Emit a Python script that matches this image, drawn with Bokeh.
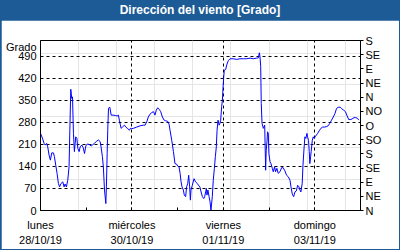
from bokeh.plotting import figure
from bokeh.models import Range1d, FixedTicker, LinearAxis, Div, Grid
from bokeh.layouts import column
from bokeh.embed import file_html
from bokeh.resources import INLINE

# hours since Mon 28/10/19 00:00 and wind direction [Grado]
hours = [0.0, 1.0, 1.9, 2.4, 3.3, 3.8, 4.5, 5.2, 5.9, 6.8, 7.3, 8.0, 8.7, 9.4, 10.0, 10.8, 11.7, 12.4,
         12.9, 13.6, 14.3, 15.0, 15.4, 15.9, 16.4, 16.8, 17.3, 17.8, 18.5, 19.1, 19.6, 20.3, 20.8, 21.7,
         22.4, 23.1, 23.8, 24.5, 25.5, 26.6, 27.4, 28.3, 29.4, 30.4, 31.3, 31.8, 32.5, 33.0, 33.6, 34.3,
         34.6, 35.0, 35.3, 35.7, 36.4, 37.1, 38.1, 39.2, 40.2, 40.9, 41.4, 42.3, 43.2, 44.1, 44.8, 45.8,
         46.7, 47.2, 47.9, 48.8, 50.5, 52.3, 54.0, 54.9, 55.8, 56.6, 57.5, 58.4, 59.3, 60.1, 60.8, 61.5,
         62.4, 63.1, 64.0, 64.9, 65.7, 66.8, 67.5, 68.0, 68.9, 69.8, 70.6, 71.5, 72.0, 72.7, 73.3, 73.8,
         74.3, 75.0, 75.5, 76.2, 76.7, 77.3, 77.8, 78.3, 78.7, 79.0, 79.7, 80.6, 81.4, 82.3, 83.2, 83.7,
         84.3, 85.0, 85.7, 86.2, 86.7, 87.1, 87.4, 87.9, 88.5, 89.0, 89.5, 90.2, 90.7, 91.3, 91.8, 92.3,
         92.7, 93.2, 93.8, 94.2, 94.6, 95.1, 95.5, 95.8, 96.2, 96.5, 97.2, 97.9, 98.6, 99.5, 101.2, 103.0,
         104.7, 106.5, 108.2, 110.0, 111.7, 113.5, 114.4, 114.9, 115.2, 115.6, 115.9, 116.3, 117.0, 117.7,
         118.2, 118.5, 118.9, 119.2, 119.6, 119.9, 120.5, 121.0, 121.7, 122.2, 122.9, 123.4, 124.1, 124.8,
         125.7, 126.6, 127.4, 128.3, 129.2, 130.1, 131.0, 131.5, 132.2, 132.9, 133.6, 134.3, 135.0, 135.7,
         136.2, 136.7, 137.4, 137.8, 138.3, 138.8, 139.3, 139.9, 140.2, 140.7, 141.1, 141.4, 141.8, 142.1,
         142.7, 143.2, 143.7, 144.4, 145.5, 146.3, 147.2, 148.1, 149.0, 150.0, 151.0, 151.9, 152.8, 153.7,
         154.6, 155.4, 156.3, 157.4, 158.0, 159.1, 160.1, 160.8, 161.8, 162.9, 163.6, 164.6, 165.5, 166.4,
         167.1]
direction = [245, 230, 213, 208, 213, 202, 176, 160, 183, 183, 171, 144, 118, 86, 75, 86, 91, 75,
             84, 75, 96, 139, 255, 385, 356, 361, 245, 187, 234, 229, 197, 187, 202, 208,
             200, 181, 205, 211, 210, 205, 209, 213, 220, 224, 219, 202, 171, 139, 65, 22,
             75, 181, 255, 325, 328, 303, 303, 302, 300, 303, 287, 261, 266, 271, 265, 260,
             255, 261, 260, 261, 265, 269, 271, 271, 282, 297, 306, 311, 314, 303, 319, 326,
             321, 314, 297, 287, 285, 283, 274, 255, 223, 187, 149, 147, 141, 139, 118, 91,
             75, 65, 49, 44, 75, 86, 112, 75, 33, 65, 80, 101, 91, 86, 78, 75,
             59, 44, 38, 44, 59, 70, 49, 65, 44, 28, 1, 44, 96, 134, 171, 202,
             255, 287, 271, 277, 287, 330, 350, 388, 425, 446, 448, 465, 476, 482, 482, 480,
             482, 482, 482, 484, 482, 484, 485, 501, 490, 458, 340, 277, 261, 271,
             128, 192, 218, 250, 245, 181, 155, 149, 134, 123, 139, 123, 134, 118,
             123, 136, 136, 126, 112, 107, 96, 75, 52, 44, 59, 62, 80, 75,
             65, 59, 86, 144, 192, 234, 229, 245, 234, 223, 187, 149, 171, 187,
             223, 234, 229, 236, 245, 253, 261, 265, 265, 266, 269, 277, 287, 297,
             308, 324, 328, 328, 324, 319, 314, 303, 289, 289, 291, 295, 295, 293,
             287]

y_ticks = [0, 70, 140, 210, 280, 350, 420, 490]
compass_ticks = [0, 45, 90, 135, 180, 225, 270, 315, 360, 405, 450, 495, 540]
compass_labels = ["N", "NE", "E", "SE", "S", "SO", "O", "NO", "N", "NE", "E", "SE", "S"]
day_ticks = [0, 24, 48, 72, 96, 120, 144, 168]
day_labels = ["lunes\n28/10/19", "", "miércoles\n30/10/19", "", "viernes\n01/11/19", "",
              "domingo\n03/11/19", ""]
title_text = "Dirección del viento [Grado]"
unit_label = "Grado"

BLUE = "#1d5b96"
FONT = "Liberation Sans"

p = figure(width=398, height=229, output_backend="svg", toolbar_location=None,
           x_range=Range1d(0, 168), y_range=Range1d(0, 540),
           min_border_left=39, min_border_right=39, min_border_top=20, min_border_bottom=39,
           y_axis_location=None, x_axis_location=None)
p.margin = (0, 1, 1, 1)
p.background_fill_color = "white"
p.border_fill_color = "white"
p.outline_line_color = "black"
p.outline_line_alpha = 1.0

p.line(hours, direction, line_color="#0000ff", line_width=1)

# left axis
la = LinearAxis(ticker=FixedTicker(ticks=y_ticks + [519]))
la.major_label_overrides = {519: unit_label}
la.major_tick_in = 0
la.major_tick_out = 0
la.minor_tick_in = 0
la.minor_tick_out = 0
la.major_label_standoff = 4
la.axis_line_color = "black"
la.major_label_text_font = FONT
la.major_label_text_font_size = "11px"
la.major_label_text_color = "black"
p.add_layout(la, "left")

# right axis (compass)
ra = LinearAxis(ticker=FixedTicker(ticks=compass_ticks))
ra.major_label_overrides = {t: l for t, l in zip(compass_ticks, compass_labels)}
ra.major_tick_in = 0
ra.major_tick_out = 3
ra.minor_tick_in = 0
ra.minor_tick_out = 0
ra.major_label_standoff = 2
ra.axis_line_color = "black"
ra.major_label_text_font = FONT
ra.major_label_text_font_size = "11px"
ra.major_label_text_color = "black"
p.add_layout(ra, "right")

# bottom axis
ba = LinearAxis(ticker=FixedTicker(ticks=day_ticks))
ba.major_label_overrides = {t: l for t, l in zip(day_ticks, day_labels)}
ba.major_tick_in = 3
ba.major_tick_out = 0
ba.minor_tick_in = 0
ba.minor_tick_out = 0
ba.major_label_standoff = 8
ba.axis_line_color = "black"
ba.major_label_text_font = FONT
ba.major_label_text_font_size = "11px"
ba.major_label_text_color = "black"
ba.major_label_text_line_height = 1.3
p.add_layout(ba, "below")

# grids
p.add_layout(Grid(dimension=1, ticker=FixedTicker(ticks=y_ticks[1:]),
                  grid_line_color="black", grid_line_dash="3 3", grid_line_width=1))
p.add_layout(Grid(dimension=0, ticker=FixedTicker(ticks=[48, 96, 144]),
                  grid_line_color="black", grid_line_dash="3 3", grid_line_width=1))

title = Div(text=title_text, width=400, height=20, margin=0,
            styles={"background-color": BLUE, "color": "white", "font-family": FONT,
                    "font-weight": "bold", "font-size": "12px", "text-align": "center",
                    "line-height": "20px", "width": "400px", "height": "20px"})

layout = column(title, p, styles={"background-color": BLUE}, spacing=0, margin=0)

open("out.html", "w").write(file_html(layout, INLINE))
